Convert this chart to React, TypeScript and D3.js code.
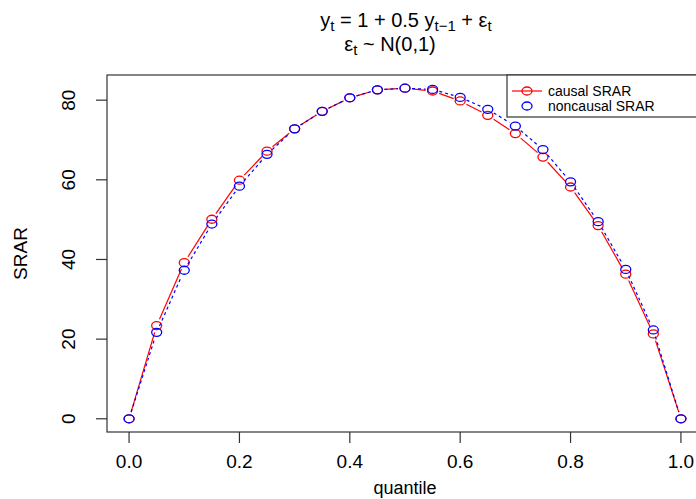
import React from "react";
import * as d3 from "d3";

const quantiles = [0, 0.05, 0.1, 0.15, 0.2, 0.25, 0.3, 0.35, 0.4, 0.45, 0.5, 0.55, 0.6, 0.65, 0.7, 0.75, 0.8, 0.85, 0.9, 0.95, 1.0];
const causal = [0, 23.4, 39.2, 50.1, 59.9, 67.2, 72.8, 77.2, 80.6, 82.6, 83.0, 82.3, 79.8, 76.2, 71.6, 65.7, 58.2, 48.5, 36.3, 21.3, 0];
const noncausal = [0, 21.7, 37.3, 48.9, 58.4, 66.4, 72.8, 77.2, 80.6, 82.6, 83.0, 82.7, 80.7, 77.7, 73.5, 67.6, 59.5, 49.5, 37.5, 22.3, 0];
const xTicks = [0, 0.2, 0.4, 0.6, 0.8, 1.0];
const yTicks = [0, 20, 40, 60, 80];
const seriesNames = ["causal SRAR", "noncausal SRAR"];

const W = 696, H = 499;
const L = 107, R = 703, T = 75, B = 432;
const FONT = "'Liberation Sans', Arial, Helvetica, sans-serif";

export default function App() {
  const x = d3.scaleLinear().domain([-0.04, 1.04]).range([L, R]);
  const y = d3.scaleLinear().domain([-3.32, 86.32]).range([B, T]);
  const rx = 5, ry = 4, gap = 7;

  const segs = (vals: number[]) => {
    const out: string[] = [];
    for (let i = 0; i < vals.length - 1; i++) {
      const x0 = x(quantiles[i]), y0 = y(vals[i]);
      const x1 = x(quantiles[i + 1]), y1 = y(vals[i + 1]);
      const dx = x1 - x0, dy = y1 - y0;
      const len = Math.hypot(dx, dy);
      if (len <= 2 * gap) continue;
      const ux = dx / len, uy = dy / len;
      const p = d3.path();
      p.moveTo(x0 + ux * gap, y0 + uy * gap);
      p.lineTo(x1 - ux * gap, y1 - uy * gap);
      out.push(p.toString());
    }
    return out;
  };

  const series = [
    { vals: causal, color: "#ff0000", dash: undefined as string | undefined },
    { vals: noncausal, color: "#0000ff", dash: "3,3" },
  ];

  return (
    <div style={{ position: "absolute", left: 0, top: 0 }}>
      <svg width={W} height={H} style={{ display: "block", background: "#fff" }} fontFamily={FONT}>
        <rect x={0} y={0} width={W} height={H} fill="#fff" />
        {/* title */}
        <text x={406} y={27} textAnchor="middle" fontSize={20} fill="#000">
          <tspan>y</tspan>
          <tspan fontSize={15} dy={4}>t</tspan>
          <tspan dy={-4}>{" = 1 + 0.5 y"}</tspan>
          <tspan fontSize={15} dy={4}>t−1</tspan>
          <tspan dy={-4}>{" + ε"}</tspan>
          <tspan fontSize={15} dy={4}>t</tspan>
        </text>
        <text x={390} y={51} textAnchor="middle" fontSize={20} fill="#000">
          <tspan>ε</tspan>
          <tspan fontSize={15} dy={4}>t</tspan>
          <tspan dy={-4}>{" ~ N(0,1)"}</tspan>
        </text>

        {/* series */}
        {series.map((s, si) => (
          <g key={si}>
            {segs(s.vals).map((d, i) => (
              <path key={i} d={d} stroke={s.color} strokeWidth={1.2} fill="none" strokeDasharray={s.dash} />
            ))}
            {s.vals.map((v, i) => (
              <ellipse key={i} cx={x(quantiles[i])} cy={y(v)} rx={rx} ry={ry} fill="none" stroke={s.color} strokeWidth={1.3} />
            ))}
          </g>
        ))}

        {/* box */}
        <rect x={L} y={T} width={R - L} height={B - T} fill="none" stroke="#333" strokeWidth={1.2} />

        {/* x axis */}
        {xTicks.map((t) => (
          <g key={t}>
            <line x1={x(t)} x2={x(t)} y1={B} y2={B + 11} stroke="#333" strokeWidth={1.2} />
            <text x={x(t)} y={468} textAnchor="middle" fontSize={19} fill="#000">{t.toFixed(1)}</text>
          </g>
        ))}
        <text x={405} y={494} textAnchor="middle" fontSize={18} fill="#000">quantile</text>

        {/* y axis */}
        {yTicks.map((t) => (
          <g key={t}>
            <line x1={L - 11} x2={L} y1={y(t)} y2={y(t)} stroke="#333" strokeWidth={1.2} />
            <text transform={`translate(75,${y(t)}) rotate(-90)`} textAnchor="middle" fontSize={19} fill="#000">{t}</text>
          </g>
        ))}
        <text transform={`translate(27,${(T + B) / 2}) rotate(-90)`} textAnchor="middle" fontSize={19} fill="#000">SRAR</text>

        {/* legend */}
        <rect x={507} y={75} width={200} height={42} fill="#fff" stroke="#333" strokeWidth={1.2} />
        <line x1={512} x2={542} y1={91} y2={91} stroke="#ff0000" strokeWidth={1.2} />
        <ellipse cx={527} cy={91} rx={rx} ry={ry} fill="none" stroke="#ff0000" strokeWidth={1.3} />
        <ellipse cx={527} cy={106} rx={rx} ry={ry} fill="none" stroke="#0000ff" strokeWidth={1.3} />
        <text x={548} y={96} fontSize={14} fill="#000">{seriesNames[0]}</text>
        <text x={548} y={111} fontSize={14} fill="#000">{seriesNames[1]}</text>
      </svg>
    </div>
  );
}
